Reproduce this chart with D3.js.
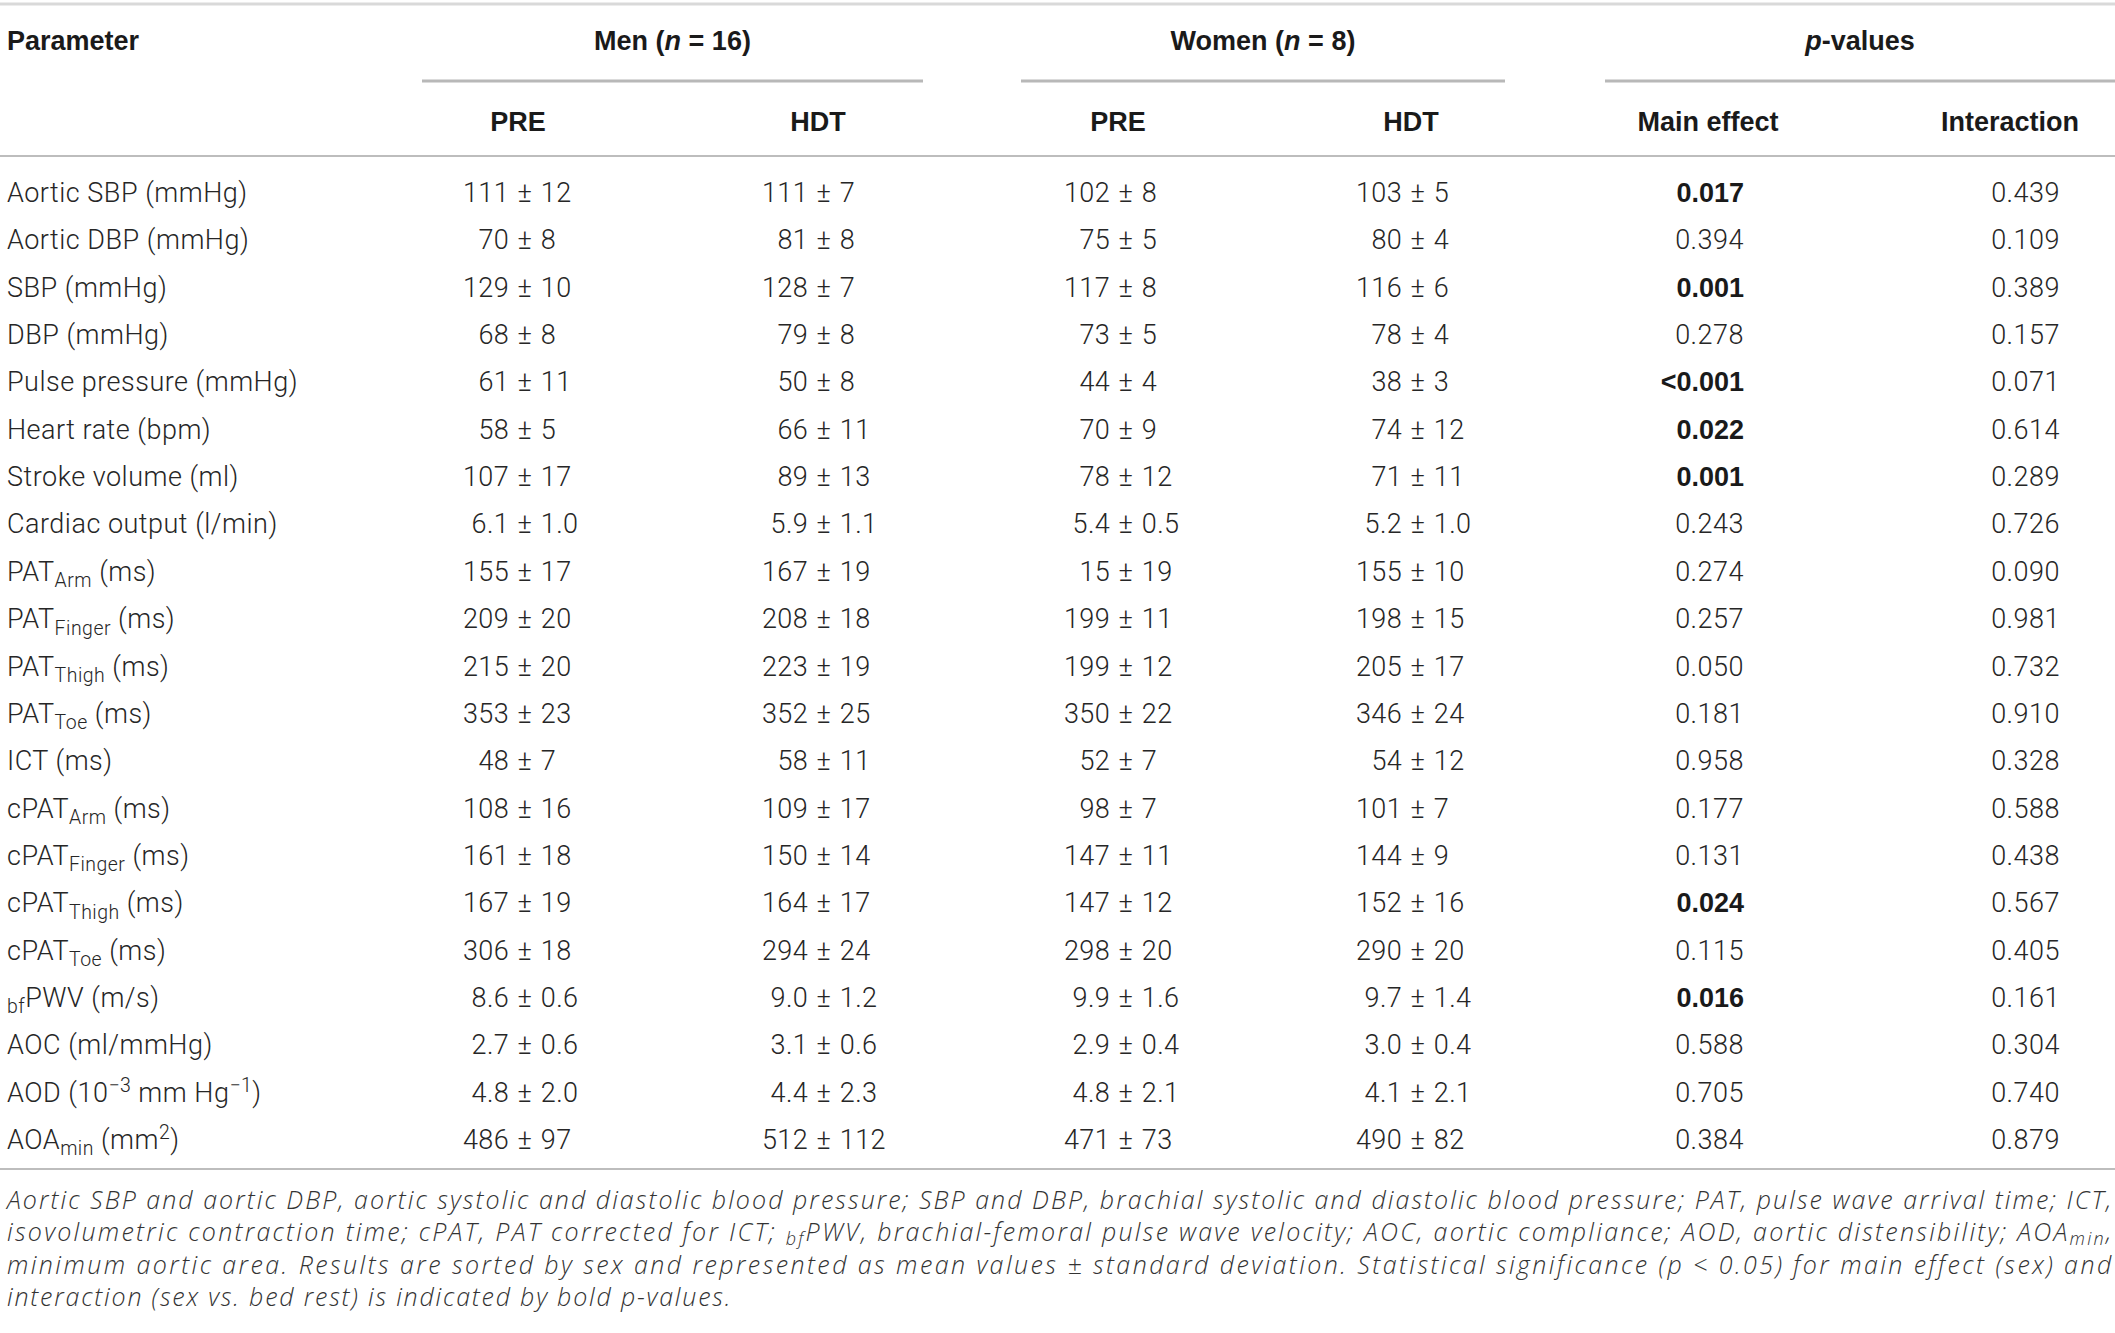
<!DOCTYPE html>
<meta charset="utf-8">
<style>
body { margin: 0; padding: 0; background: #fff; }
svg { display: block; }
text { font-family: Roboto, "Liberation Sans", sans-serif; fill: #262626; }
.head { font-family: "Liberation Sans", Arial, sans-serif; font-weight: bold; fill: #1a1a1a; }
.cell { font-weight: 300; letter-spacing: 0.5px; }
.bold { font-family: "Liberation Sans", Arial, sans-serif; font-weight: bold; fill: #1a1a1a; }
.note { font-family: "Open Sans", "Liberation Sans", sans-serif; font-weight: 300; font-style: italic; fill: #333; letter-spacing: 1.8px; }
</style>
<svg width="2115" height="1333"></svg>
<script src="https://d3js.org/d3.v7.min.js"></script>
<script>

// ---- table data ----
var parameters = [
  "Aortic SBP (mmHg)", "Aortic DBP (mmHg)", "SBP (mmHg)", "DBP (mmHg)",
  "Pulse pressure (mmHg)", "Heart rate (bpm)", "Stroke volume (ml)",
  "Cardiac output (l/min)", "PAT_{Arm} (ms)", "PAT_{Finger} (ms)",
  "PAT_{Thigh} (ms)", "PAT_{Toe} (ms)", "ICT (ms)", "cPAT_{Arm} (ms)",
  "cPAT_{Finger} (ms)", "cPAT_{Thigh} (ms)", "cPAT_{Toe} (ms)",
  "_{bf}PWV (m/s)", "AOC (ml/mmHg)", "AOD (10^{\u22123} mm Hg^{\u22121})",
  "AOA_{min} (mm^{2})"
];

var menPre = ["111 ± 12", "70 ± 8", "129 ± 10", "68 ± 8", "61 ± 11", "58 ± 5", "107 ± 17",
  "6.1 ± 1.0", "155 ± 17", "209 ± 20", "215 ± 20", "353 ± 23", "48 ± 7", "108 ± 16",
  "161 ± 18", "167 ± 19", "306 ± 18", "8.6 ± 0.6", "2.7 ± 0.6", "4.8 ± 2.0", "486 ± 97"];

var menHdt = ["111 ± 7", "81 ± 8", "128 ± 7", "79 ± 8", "50 ± 8", "66 ± 11", "89 ± 13",
  "5.9 ± 1.1", "167 ± 19", "208 ± 18", "223 ± 19", "352 ± 25", "58 ± 11", "109 ± 17",
  "150 ± 14", "164 ± 17", "294 ± 24", "9.0 ± 1.2", "3.1 ± 0.6", "4.4 ± 2.3", "512 ± 112"];

var womenPre = ["102 ± 8", "75 ± 5", "117 ± 8", "73 ± 5", "44 ± 4", "70 ± 9", "78 ± 12",
  "5.4 ± 0.5", "15 ± 19", "199 ± 11", "199 ± 12", "350 ± 22", "52 ± 7", "98 ± 7",
  "147 ± 11", "147 ± 12", "298 ± 20", "9.9 ± 1.6", "2.9 ± 0.4", "4.8 ± 2.1", "471 ± 73"];

var womenHdt = ["103 ± 5", "80 ± 4", "116 ± 6", "78 ± 4", "38 ± 3", "74 ± 12", "71 ± 11",
  "5.2 ± 1.0", "155 ± 10", "198 ± 15", "205 ± 17", "346 ± 24", "54 ± 12", "101 ± 7",
  "144 ± 9", "152 ± 16", "290 ± 20", "9.7 ± 1.4", "3.0 ± 0.4", "4.1 ± 2.1", "490 ± 82"];

var mainEffect = ["0.017", "0.394", "0.001", "0.278", "<0.001", "0.022", "0.001", "0.243",
  "0.274", "0.257", "0.050", "0.181", "0.958", "0.177", "0.131", "0.024", "0.115",
  "0.016", "0.588", "0.705", "0.384"];

var interaction = ["0.439", "0.109", "0.389", "0.157", "0.071", "0.614", "0.289", "0.726",
  "0.090", "0.981", "0.732", "0.910", "0.328", "0.588", "0.438", "0.567", "0.405",
  "0.161", "0.304", "0.740", "0.879"];

var groups = ["Men (_n_ = 16)", "Women (_n_ = 8)", "_p_-values"];
var subHeads = ["PRE", "HDT", "PRE", "HDT", "Main effect", "Interaction"];

var footnote = [
  "Aortic SBP and aortic DBP, aortic systolic and diastolic blood pressure; SBP and DBP, brachial systolic and diastolic blood pressure; PAT, pulse wave arrival time; ICT,",
  "isovolumetric contraction time; cPAT, PAT corrected for ICT; _{bf}PWV, brachial-femoral pulse wave velocity; AOC, aortic compliance; AOD, aortic distensibility; AOA_{min},",
  "minimum aortic area. Results are sorted by sex and represented as mean values ± standard deviation. Statistical significance (p < 0.05) for main effect (sex) and",
  "interaction (sex vs. bed rest) is indicated by bold p-values."
];

// ---- layout ----
var svg = d3.select("svg"),
    W = +svg.attr("width"),
    fs = 27;

var valueCols = [menPre, menHdt, womenPre, womenHdt];
var pCols = [mainEffect, interaction];

var y = d3.scalePoint()
    .domain(d3.range(parameters.length))
    .range([202, 1149]);

// x anchor of the "±" sign for each value column
var xPm = d3.scaleOrdinal().domain(d3.range(4)).range([525, 824, 1126, 1418]);
// right edge of each p-value column
var xP = d3.scaleOrdinal().domain(d3.range(2)).range([1744, 2060]);
// centre of each sub heading
var xHead = d3.scaleOrdinal().domain(d3.range(6)).range([518, 818, 1118, 1411, 1708, 2010]);
// spans of the group headings
var groupSpan = [[422, 923], [1021, 1505], [1605, 2115]];

// writes "a_{sub}" / "b^{sup}" markup into tspans
function rich(sel, str, size, drop) {
  var parts = str.split(/(_\{[^}]*\}|\^\{[^}]*\})/).filter(function(s) { return s.length; });
  var shift = 0;
  drop = drop || 0.24;
  parts.forEach(function(p) {
    var t = sel.append("tspan"), d = 0;
    if (p[0] == "_") { d = size * drop; t.attr("font-size", size * 0.72); p = p.slice(2, -1); }
    else if (p[0] == "^") { d = -size * 0.36; t.attr("font-size", size * 0.72); p = p.slice(2, -1); }
    t.attr("dy", d - shift).text(p);
    shift = d;
  });
}

// ---- rules ----
svg.append("line")
    .attr("x1", 0).attr("x2", W).attr("y1", 4).attr("y2", 4)
    .attr("stroke", "#d9d9d9").attr("stroke-width", 3);

svg.selectAll(".gline")
    .data(groupSpan)
  .enter().append("line")
    .attr("x1", function(d) { return d[0]; })
    .attr("x2", function(d) { return d[1]; })
    .attr("y1", 81).attr("y2", 81)
    .attr("stroke", "#b8b8b8").attr("stroke-width", 3);

svg.append("line")
    .attr("x1", 0).attr("x2", W).attr("y1", 156).attr("y2", 156)
    .attr("stroke", "#bdbdbd").attr("stroke-width", 2);

svg.append("line")
    .attr("x1", 0).attr("x2", W).attr("y1", 1169).attr("y2", 1169)
    .attr("stroke", "#bdbdbd").attr("stroke-width", 2);

// ---- headings ----
svg.append("text")
    .attr("class", "head")
    .attr("x", 7).attr("y", 50)
    .attr("font-size", fs)
    .text("Parameter");

svg.selectAll(".group")
    .data(groups)
  .enter().append("text")
    .attr("class", "head")
    .attr("x", function(d, i) { return (groupSpan[i][0] + groupSpan[i][1]) / 2; })
    .attr("y", 50)
    .attr("font-size", fs)
    .attr("text-anchor", "middle")
    .each(function(d) {
      var t = d3.select(this);
      d.split("_").forEach(function(p, k) {
        if (!p.length) return;
        t.append("tspan").attr("font-style", k % 2 ? "italic" : null).text(p);
      });
    });

svg.selectAll(".sub")
    .data(subHeads)
  .enter().append("text")
    .attr("class", "head")
    .attr("x", function(d, i) { return xHead(i); })
    .attr("y", 131)
    .attr("font-size", fs)
    .attr("text-anchor", "middle")
    .text(function(d) { return d; });

// ---- body ----
svg.selectAll(".param")
    .data(parameters)
  .enter().append("text")
    .attr("class", "cell")
    .attr("x", 7)
    .attr("y", function(d, i) { return y(i); })
    .attr("font-size", fs)
    .each(function(d) { rich(d3.select(this), d, fs); });

var gap = fs * 0.58;
valueCols.forEach(function(col, c) {
  var g = svg.append("g").attr("class", "col");
  var cells = g.selectAll("g")
      .data(col.map(function(v, i) { var s = v.split(" ± "); return {m: s[0], sd: s[1], i: i}; }))
    .enter().append("g");
  cells.append("text")
      .attr("class", "cell").attr("font-size", fs)
      .attr("x", xPm(c) - gap).attr("y", function(d) { return y(d.i); })
      .attr("text-anchor", "end")
      .text(function(d) { return d.m; });
  cells.append("text")
      .attr("class", "cell").attr("font-size", fs)
      .attr("x", xPm(c)).attr("y", function(d) { return y(d.i); })
      .attr("text-anchor", "middle")
      .text("±");
  cells.append("text")
      .attr("class", "cell").attr("font-size", fs)
      .attr("x", xPm(c) + gap).attr("y", function(d) { return y(d.i); })
      .text(function(d) { return d.sd; });
});

pCols.forEach(function(col, c) {
  svg.append("g").selectAll("text")
      .data(col)
    .enter().append("text")
      .attr("class", function(d) { return (d[0] == "<" || +d < 0.05) ? "bold" : "cell"; })
      .attr("font-size", fs)
      .attr("x", xP(c))
      .attr("y", function(d, i) { return y(i); })
      .attr("text-anchor", "end")
      .text(function(d) { return d; });
});

// ---- footnote ----
var nfs = 25;
svg.selectAll(".note")
    .data(footnote)
  .enter().append("text")
    .attr("class", "note")
    .attr("x", 7)
    .attr("y", function(d, i) { return 1209 + i * 32.4; })
    .attr("font-size", nfs)
    .each(function(d, i) {
      var t = d3.select(this);
      rich(t, d, nfs, 0.16);
      if (i < footnote.length - 1) t.attr("textLength", W - 9).attr("lengthAdjust", "spacing");
    });

</script>
